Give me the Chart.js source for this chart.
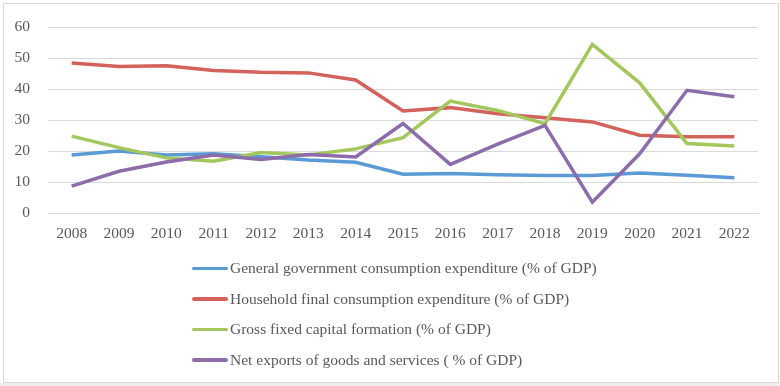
<!DOCTYPE html>
<html>
<head>
<meta charset="utf-8">
<script src="https://cdn.jsdelivr.net/npm/chart.js@4.4.0/dist/chart.umd.min.js"></script>
<style>
    body { margin: 0; background: #fff; }
    #wrap { position: relative; width: 780px; height: 386px; overflow: hidden; }
    #frame { position: absolute; left: 3px; top: 3px; width: 776px; height: 380px; border: 1px solid #d9d9d9; box-sizing: border-box; }
    #strip { position: absolute; left: 0; top: 383px; width: 780px; height: 3px; background: #eeeeee; }
    #box { position: absolute; left: 0; top: 0; width: 780px; height: 254px; }
    #legend { position: absolute; left: 192px; top: 253px; margin: 0; padding: 0; list-style: none;
        font-family: "Times New Roman", "Liberation Serif", "DejaVu Serif", serif; font-size: 15.5px; color: #595959; }
    #legend li { height: 30.5px; display: flex; align-items: center; white-space: nowrap; }
    #legend .swatch { display: inline-block; width: 36px; height: 3.5px; border-radius: 2px; margin-right: 2px; }
</style>
</head>
<body>
<div id="wrap">
    <div id="frame"></div>
    <div id="strip"></div>
    <div id="box"><canvas id="chart_gdp"></canvas></div>
    <ul id="legend"></ul>
</div>
<script>
var years = ['2008', '2009', '2010', '2011', '2012', '2013', '2014', '2015', '2016', '2017', '2018', '2019', '2020', '2021', '2022'];
var govExp = [18.8, 20.1, 18.8, 19.2, 18.3, 17.2, 16.5, 12.6, 12.9, 12.5, 12.2, 12.2, 13.0, 12.3, 11.5];
var householdExp = [48.5, 47.4, 47.6, 46.1, 45.5, 45.3, 43.0, 33.0, 34.1, 32.1, 30.8, 29.5, 25.2, 24.7, 24.7];
var grossCapital = [24.9, 21.2, 17.9, 16.8, 19.6, 18.8, 20.8, 24.4, 36.2, 33.2, 28.9, 54.5, 42.1, 22.5, 21.7];
var netExports = [8.8, 13.6, 16.6, 18.8, 17.4, 19.0, 18.2, 29.0, 15.8, 22.3, 28.4, 3.6, 19.2, 39.7, 37.6];
var seriesNames = [
    'General government consumption expenditure (% of GDP)',
    'Household final consumption expenditure (% of GDP)',
    'Gross fixed capital formation (% of GDP)',
    'Net exports of goods and services ( % of GDP)'
];

var fontFamily = '"Times New Roman", "Liberation Serif", "DejaVu Serif", serif';
var textColor = '#595959';
var gridColor = '#d9d9d9';

function line(label, data, color, order) {
    return {
        label: label,
        data: data,
        borderColor: color,
        backgroundColor: color,
        borderWidth: 3.5,
        pointRadius: 0,
        tension: 0,
        fill: false,
        order: order // excel draws later series on top
    };
}

// html legend, one item per row like the original
var htmlLegend = {
    id: 'htmlLegend',
    afterUpdate: function (chart) {
        var ul = document.getElementById('legend');
        ul.innerHTML = '';
        chart.data.datasets.forEach(function (ds) {
            var li = document.createElement('li');
            var sw = document.createElement('span');
            sw.className = 'swatch';
            sw.style.background = ds.borderColor;
            li.appendChild(sw);
            li.appendChild(document.createTextNode(ds.label));
            ul.appendChild(li);
        });
    }
};

var ctx = document.getElementById('chart_gdp').getContext('2d');
var gdpChart = new Chart(ctx, {
    type: 'line',
    data: {
        labels: years,
        datasets: [
            line(seriesNames[0], govExp, '#5B9BD5', 3),
            line(seriesNames[1], householdExp, '#D2625A', 2),
            line(seriesNames[2], grossCapital, '#A3C75C', 1),
            line(seriesNames[3], netExports, '#8D6CAB', 0)
        ]
    },
    options: {
        responsive: true,
        maintainAspectRatio: false,
        animation: false,
        layout: {
            padding: { top: 17, left: 14, right: 22, bottom: 0 }
        },
        plugins: {
            legend: { display: false },
            tooltip: { enabled: false }
        },
        scales: {
            x: {
                offset: true,
                grid: { display: false, drawTicks: false },
                border: { display: true, color: gridColor, width: 1 },
                ticks: {
                    color: textColor,
                    padding: 11,
                    maxRotation: 0,
                    autoSkip: false,
                    font: { family: fontFamily, size: 15.5 }
                }
            },
            y: {
                min: 0,
                max: 60,
                afterFit: function (scale) {
                    scale.width = 34;
                },
                grid: { color: gridColor, lineWidth: 1, drawTicks: false },
                border: { display: false },
                ticks: {
                    stepSize: 10,
                    color: textColor,
                    padding: 18,
                    font: { family: fontFamily, size: 15.5 }
                }
            }
        }
    },
    plugins: [htmlLegend]
});
</script>
</body>
</html>
